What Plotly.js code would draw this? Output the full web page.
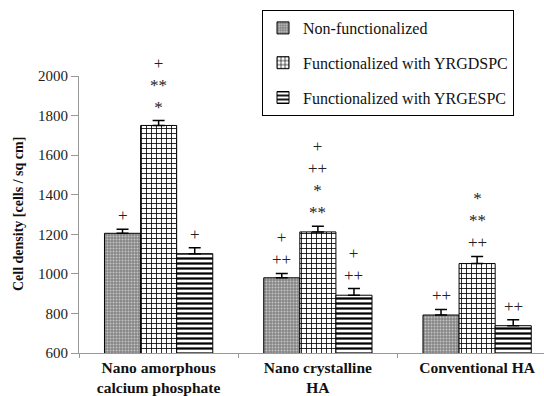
<!DOCTYPE html>
<html><head><meta charset="utf-8">
<script src="https://cdn.plot.ly/plotly-3.0.1.min.js"></script>
<style>html,body{margin:0;padding:0;background:#fff}</style>
</head><body><div id="chart" style="width:544px;height:396px"></div>
<script>
const categories = ["Nano amorphous<br>calcium phosphate", "Nano crystalline<br>HA", "Conventional HA"];
const seriesNames = ["Non-functionalized", "Functionalized with YRGDSPC", "Functionalized with YRGESPC"];
const nonFunc = [1205, 980, 792];
const yrgdspc = [1750, 1212, 1052];
const yrgespc = [1102, 892, 738];
const errNonFunc = [20, 22, 28];
const errYrgdspc = [25, 28, 36];
const errYrgespc = [30, 34, 30];
const sigNonFunc = ["+", "+<br>++", "++"];
const sigYrgdspc = ["+<br>**<br>*", "+<br>++<br>*<br>**", "*<br>**<br>++"];
const sigYrgespc = ["+", "+<br>++", "++"];

const values = [nonFunc, yrgdspc, yrgespc];
const errs = [errNonFunc, errYrgdspc, errYrgespc];
const sigs = [sigNonFunc, sigYrgdspc, sigYrgespc];
const styles = [
  {color: "#858585", pattern: {shape: ".", fgcolor: "#c4c4c4", bgcolor: "#858585", size: 3, solidity: 0.35}},
  {color: "#ffffff", pattern: {shape: "+", fgcolor: "#000000", bgcolor: "#ffffff", size: 5, solidity: 0.3}},
  {color: "#ffffff", pattern: {shape: "-", fgcolor: "#000000", bgcolor: "#ffffff", size: 5, solidity: 0.45}}
];

const serif = "'Times New Roman', 'Liberation Serif', serif";
const traces = values.map((v, j) => ({
  type: "bar", x: categories, y: v, name: seriesNames[j],
  legendgroup: "g" + j,
  marker: {color: styles[j].color, pattern: styles[j].pattern, line: {color: "#000", width: 1}},
  error_y: {type: "data", symmetric: false, array: errs[j], arrayminus: errs[j].map(() => 0),
            color: "#000", thickness: 1.5, width: 6},
  hoverinfo: "skip"
}));

const plotLeft = 79, plotWidth = 544 - 79;
const xRange = [-0.5, 2.42];
const catPx = plotWidth / (xRange[1] - xRange[0]);
const bargap = 0.32;
const barPx = catPx * (1 - bargap) / 3;

const annotations = [];
values.forEach((v, j) => {
  v.forEach((val, i) => {
    annotations.push({
      x: categories[i], y: val + errs[j][i], xref: "x", yref: "y",
      xshift: (j - 1) * barPx, yshift: 2, yanchor: "bottom",
      text: sigs[j][i], showarrow: false,
      font: {family: serif, size: 17, color: "#222"}
    });
  });
});
annotations.push({
  text: "Cell density [cells / sq cm]", xref: "paper", yref: "paper", x: -0.13, y: 0.5,
  xanchor: "center", yanchor: "middle", textangle: -90, showarrow: false,
  font: {family: serif, size: 14, color: "#111", weight: "bold"}
});

const layout = {
  width: 544, height: 396,
  margin: {l: plotLeft, r: 0, t: 76, b: 43, autoexpand: false},
  paper_bgcolor: "#fff", plot_bgcolor: "#fff",
  font: {family: serif},
  barmode: "group", bargap: bargap, bargroupgap: 0,
  showlegend: true,
  legend: {x: 262/544, xref: "container", xanchor: "left", y: 1 - 10/396, yref: "container", yanchor: "top",
           bgcolor: "#fff", bordercolor: "#000", borderwidth: 1,
           font: {family: serif, size: 16, color: "#111"},
           traceorder: "grouped", tracegroupgap: 11, itemwidth: 30},
  xaxis: {type: "category", range: xRange, tickson: "boundaries", ticks: "outside", ticklen: 4,
          tickcolor: "#999", showline: true, linecolor: "#999", linewidth: 1,
          showgrid: false, zeroline: false,
          tickfont: {family: serif, size: 15.5, color: "#111", weight: "bold"}},
  yaxis: {range: [600, 2000], dtick: 200, ticks: "outside", ticklen: 7, tickcolor: "#999",
          showline: true, linecolor: "#999", linewidth: 1, showgrid: false, zeroline: false,
          tickfont: {family: serif, size: 15, color: "#222"}},
  annotations: annotations
};
Plotly.newPlot("chart", traces, layout, {displayModeBar: false, staticPlot: true});
</script></body></html>
